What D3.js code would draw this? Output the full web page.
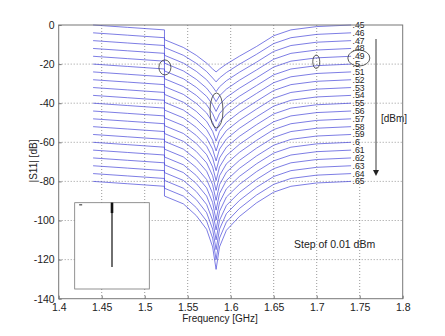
<!DOCTYPE html>
<html>
<head>
<meta charset="utf-8">
<script src="https://cdn.jsdelivr.net/npm/d3@7"></script>
<style>
  body { margin: 0; background: #fff; }
  text { font-family: "Liberation Sans", Arial, sans-serif; }
</style>
</head>
<body>
<div id="chart"></div>
<script>
// frequency grid (GHz) shared by every trace; 1.523 twice = the step
var freqs = [1.44, 1.48, 1.523, 1.523, 1.545, 1.56, 1.572, 1.579, 1.583, 1.587, 1.595, 1.61, 1.63, 1.65, 1.67, 1.70, 1.74];

// input power labels (right end of each trace)
var levels = [".45", ".46", ".47", ".48", ".49", ".5", ".51", ".52", ".53", ".54", ".55",
              ".56", ".57", ".58", ".59", ".6", ".61", ".62", ".63", ".64", ".65"];

// |S11| in dB, one row per trace
var s11 = [
  [0, -1.2, -2.5, -7.5, -11.5, -15.5, -19.5, -22.5, -24, -22.5, -20, -16, -11, -5.5, -2.5, -0.8, 0],
  [-4, -5.2, -6.5, -11.5, -15.5, -19.6, -23.8, -27.1, -29.1, -27.1, -24.3, -20.1, -15, -9.5, -6.5, -4.8, -4],
  [-8, -9.2, -10.5, -15.5, -19.5, -23.7, -28, -31.6, -34.1, -31.6, -28.5, -24.2, -19, -13.5, -10.5, -8.8, -8],
  [-12, -13.2, -14.5, -19.5, -23.5, -27.8, -32.3, -36.2, -39.2, -36.2, -32.8, -28.3, -23, -17.5, -14.5, -12.8, -12],
  [-16, -17.2, -18.5, -23.5, -27.5, -31.9, -36.5, -40.7, -44.2, -40.7, -37, -32.4, -27, -21.5, -18.5, -16.8, -16],
  [-20, -21.2, -22.5, -27.5, -31.5, -36, -40.8, -45.3, -49.3, -45.3, -41.3, -36.5, -31, -25.5, -22.5, -20.8, -20],
  [-24, -25.2, -26.5, -31.5, -35.5, -40.1, -45, -49.8, -54.3, -49.8, -45.5, -40.6, -35, -29.5, -26.5, -24.8, -24],
  [-28, -29.2, -30.5, -35.5, -39.5, -44.2, -49.3, -54.4, -59.4, -54.4, -49.8, -44.7, -39, -33.5, -30.5, -28.8, -28],
  [-32, -33.2, -34.5, -39.5, -43.5, -48.3, -53.5, -58.9, -64.4, -58.9, -54, -48.8, -43, -37.5, -34.5, -32.8, -32],
  [-36, -37.2, -38.5, -43.5, -47.5, -52.4, -57.8, -63.5, -69.5, -63.5, -58.3, -52.9, -47, -41.5, -38.5, -36.8, -36],
  [-40, -41.2, -42.5, -47.5, -51.5, -56.5, -62, -68, -74.5, -68, -62.5, -57, -51, -45.5, -42.5, -40.8, -40],
  [-44, -45.2, -46.5, -51.5, -55.5, -60.6, -66.3, -72.6, -79.6, -72.6, -66.8, -61.1, -55, -49.5, -46.5, -44.8, -44],
  [-48, -49.2, -50.5, -55.5, -59.5, -64.7, -70.5, -77.1, -84.6, -77.1, -71, -65.2, -59, -53.5, -50.5, -48.8, -48],
  [-52, -53.2, -54.5, -59.5, -63.5, -68.8, -74.8, -81.7, -89.7, -81.7, -75.3, -69.3, -63, -57.5, -54.5, -52.8, -52],
  [-56, -57.2, -58.5, -63.5, -67.5, -72.9, -79, -86.2, -94.7, -86.2, -79.5, -73.4, -67, -61.5, -58.5, -56.8, -56],
  [-60, -61.2, -62.5, -67.5, -71.5, -77, -83.3, -90.8, -99.8, -90.8, -83.8, -77.5, -71, -65.5, -62.5, -60.8, -60],
  [-64, -65.2, -66.5, -71.5, -75.5, -81.1, -87.5, -95.3, -104.8, -95.3, -88, -81.6, -75, -69.5, -66.5, -64.8, -64],
  [-68, -69.2, -70.5, -75.5, -79.5, -85.2, -91.8, -99.9, -109.9, -99.9, -92.3, -85.7, -79, -73.5, -70.5, -68.8, -68],
  [-72, -73.2, -74.5, -79.5, -83.5, -89.3, -96, -104.4, -114.9, -104.4, -96.5, -89.8, -83, -77.5, -74.5, -72.8, -72],
  [-76, -77.2, -78.5, -83.5, -87.5, -93.4, -100.3, -109, -120, -109, -100.8, -93.9, -87, -81.5, -78.5, -76.8, -76],
  [-80, -81.2, -82.5, -87.5, -91.5, -97.5, -104.5, -113.5, -125, -113.5, -105, -98, -91, -85.5, -82.5, -80.8, -80]
];

var xTicks = [1.4, 1.45, 1.5, 1.55, 1.6, 1.65, 1.7, 1.75, 1.8];
var yTicks = [0, -20, -40, -60, -80, -100, -120, -140];

// circled spots (GHz, dB)
var circledF = [1.5235, 1.5835, 1.6995, 1.749];
var circledDb = [-21.7, -43.7, -18.8, -16.9];

// inset thumbnail trace, in its own 0..1 units
var insetX = [0.5, 0.5];
var insetY = [1.0, 0.255];

var W = 445, H = 336;
var svg = d3.select("#chart").append("svg").attr("width", W).attr("height", H);

var x = d3.scaleLinear().domain([1.4, 1.8]).range([58.7, 402.7]);
var y = d3.scaleLinear().domain([-140, 0]).range([298.7, 25]);

// grid
svg.append("g").selectAll("line").data(xTicks.slice(1, -1)).enter().append("line")
    .attr("x1", d => x(d)).attr("x2", d => x(d))
    .attr("y1", y(0)).attr("y2", y(-140))
    .attr("stroke", "#555").attr("stroke-width", 0.6).attr("stroke-dasharray", "1,2");
svg.append("g").selectAll("line").data(yTicks.slice(1, -1)).enter().append("line")
    .attr("x1", x(1.4)).attr("x2", x(1.8))
    .attr("y1", d => y(d)).attr("y2", d => y(d))
    .attr("stroke", "#555").attr("stroke-width", 0.6).attr("stroke-dasharray", "1,2");

// traces
var line = d3.line().x((d, i) => x(freqs[i])).y(d => y(d));
svg.append("g").selectAll("path").data(s11).enter().append("path")
    .attr("d", line)
    .attr("fill", "none")
    .attr("stroke", "#4545d8")
    .attr("stroke-width", 0.7);

// labels at the right end of each trace
svg.append("g").selectAll("text").data(s11).enter().append("text")
    .attr("x", x(freqs[freqs.length - 1]) + 1.5)
    .attr("y", d => y(d[d.length - 1]) + 3)
    .style("font-size", "8.5px")
    .attr("fill", "#222")
    .text((d, i) => levels[i]);

// ellipses
var radii = [[6, 7.5], [6.5, 17.5], [3.5, 6.7], [11, 8]];
svg.append("g").selectAll("ellipse").data(circledF).enter().append("ellipse")
    .attr("cx", d => x(d))
    .attr("cy", (d, i) => y(circledDb[i]))
    .attr("rx", (d, i) => radii[i][0])
    .attr("ry", (d, i) => radii[i][1])
    .attr("fill", "none").attr("stroke", "#333").attr("stroke-width", 0.8);

// arrow showing the power sweep direction
svg.append("line").attr("x1", 376).attr("x2", 376).attr("y1", 39).attr("y2", 171)
    .attr("stroke", "#222").attr("stroke-width", 0.9);
svg.append("path").attr("d", "M373,170 L379,170 L376,176 Z").attr("fill", "#222");
svg.append("text").attr("x", 381).attr("y", 122).style("font-size", "10px").attr("fill", "#222").text("[dBm]");

svg.append("text").attr("x", 294).attr("y", 248).style("font-size", "10.5px").attr("fill", "#222")
    .text("Step of 0.01 dBm");

// inset
var ix = d3.scaleLinear().domain([0, 1]).range([74.7, 149.3]);
var iy = d3.scaleLinear().domain([0, 1]).range([289, 202.7]);
svg.append("rect").attr("x", ix(0)).attr("y", iy(1)).attr("width", ix(1) - ix(0)).attr("height", iy(0) - iy(1))
    .attr("fill", "#fff").attr("stroke", "#777").attr("stroke-width", 0.8);
svg.append("path").datum(insetY)
    .attr("d", d3.line().x((d, i) => ix(insetX[i])).y(d => iy(d)))
    .attr("stroke", "#222").attr("stroke-width", 1.3);
svg.append("line").attr("x1", ix(0.5)).attr("x2", ix(0.5)).attr("y1", iy(1)).attr("y2", iy(0.88))
    .attr("stroke", "#111").attr("stroke-width", 2.6);
svg.append("line").attr("x1", ix(0.06)).attr("x2", ix(0.1)).attr("y1", iy(0.975)).attr("y2", iy(0.975))
    .attr("stroke", "#222").attr("stroke-width", 1);

// axes box
svg.append("rect").attr("x", x(1.4)).attr("y", y(0)).attr("width", x(1.8) - x(1.4)).attr("height", y(-140) - y(0))
    .attr("fill", "none").attr("stroke", "#777").attr("stroke-width", 1);

var xAxis = svg.append("g").attr("transform", "translate(0," + y(-140) + ")")
    .call(d3.axisBottom(x).tickValues(xTicks).tickFormat(d => String(d)).tickSizeInner(-3).tickSizeOuter(0).tickPadding(5));
var yAxis = svg.append("g").attr("transform", "translate(" + x(1.4) + ",0)")
    .call(d3.axisLeft(y).tickValues(yTicks).tickFormat(d => String(d)).tickSizeInner(-3).tickSizeOuter(0).tickPadding(4));
[xAxis, yAxis].forEach(a => {
  a.select(".domain").remove();
  a.selectAll("line").attr("stroke", "#777");
  a.selectAll("text").style("font-size", "10.5px").attr("fill", "#222")
    .style("font-family", "'Liberation Sans', Arial, sans-serif");
});

svg.append("text").attr("x", 220).attr("y", 322).attr("text-anchor", "middle")
    .style("font-size", "10px").attr("fill", "#222").text("Frequency [GHz]");
svg.append("text").attr("transform", "translate(37,161) rotate(-90)").attr("text-anchor", "middle")
    .style("font-size", "10px").attr("fill", "#222").text("|S11| [dB]");
</script>
</body>
</html>
